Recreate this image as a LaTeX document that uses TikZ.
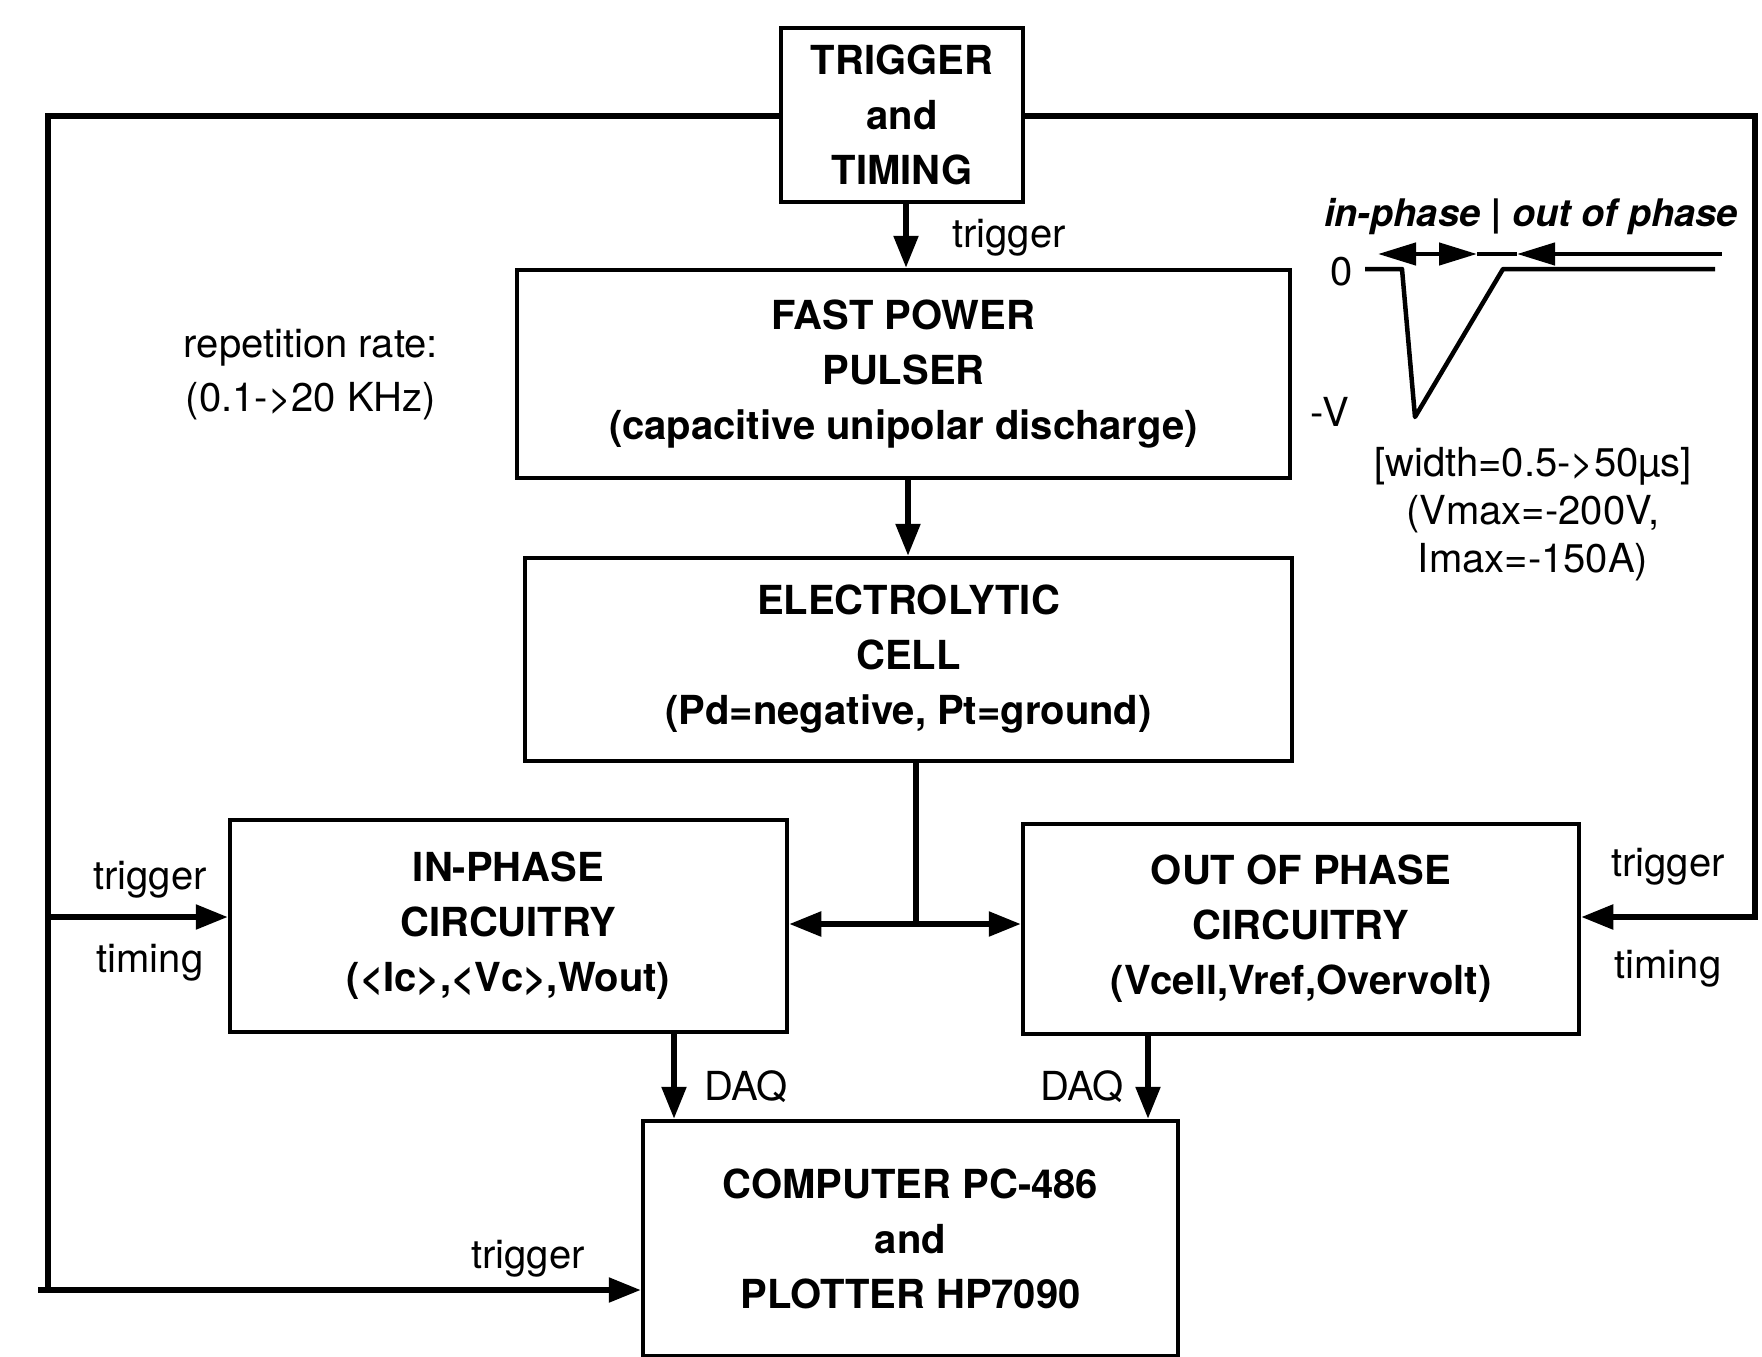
\documentclass[tikz,border=0pt]{standalone}
\usepackage{fontspec}
\setmainfont{TeX Gyre Heros}
\usetikzlibrary{arrows.meta}
\tikzset{
  blk/.style={draw, line width=4.5pt, inner sep=0pt, align=center,
    font=\fontsize{40}{55}\selectfont\bfseries},
  wire/.style={line width=5.5pt},
  arr/.style={wire, -{Triangle[length=32pt,width=24pt]}},
  lbl/.style={inner sep=0pt, align=center, font=\fontsize{40}{54}\selectfont},
  thin/.style={line width=4.5pt, line join=round},
  stip/.tip={Triangle[length=38pt,width=22pt]},
}
\begin{document}
\begin{tikzpicture}[x=1pt,y=-1pt]
\useasboundingbox (0,0) rectangle (1762,1357);
% boxes
\node[blk, minimum width=242pt, minimum height=174pt] (trig) at (902,115) {TRIGGER\\and\\TIMING};
\node[blk, minimum width=773pt, minimum height=208pt] (pulser) at (903.5,374) {FAST POWER\\PULSER\\(capacitive unipolar discharge)};
\node[blk, minimum width=767pt, minimum height=203pt] (cell) at (908.5,659.5) {ELECTROLYTIC\\CELL\\(Pd=negative, Pt=ground)};
\node[blk, minimum width=557pt, minimum height=212pt] (inph) at (508.5,926) {IN-PHASE\\CIRCUITRY\\(<Ic>,<Vc>,Wout)};
\node[blk, minimum width=556pt, minimum height=210pt] (outph) at (1301,929) {OUT OF PHASE\\CIRCUITRY\\(Vcell,Vref,Overvolt)};
\node[blk, minimum width=535pt, minimum height=235pt] (comp) at (910.5,1238.5) {COMPUTER PC-486\\and\\PLOTTER HP7090};
% coordinates
\coordinate (tl) at (48,116);
\coordinate (blc) at (48,1290);
\coordinate (bs) at (38,1290);
\coordinate (lj) at (48,917);
\coordinate (tr) at (1755,116);
\coordinate (rc) at (1755,917);
\coordinate (a1) at (906,0);
\coordinate (a2) at (908,0);
\coordinate (j) at (916,924);
\coordinate (d1) at (674,0);
\coordinate (d2) at (1148,0);
% connectors
\draw[wire] (trig.west |- tl) -- (tl) -- (blc);
\draw[arr] (bs) -- (bs -| comp.west);
\draw[arr] (lj) -- (lj -| inph.west);
\draw[arr] (trig.east |- tr) -- (tr) -- (rc) -- (rc -| outph.east);
\draw[arr] (trig.south -| a1) -- (pulser.north -| a1);
\draw[arr] (pulser.south -| a2) -- (cell.north -| a2);
\draw[wire] (cell.south -| j) -- (j);
\draw[arr] (j) -- (j -| inph.east);
\draw[arr] (j) -- (j -| outph.west);
\draw[arr] (inph.south -| d1) -- (comp.north -| d1);
\draw[arr] (outph.south -| d2) -- (comp.north -| d2);
% labels
\node[lbl] (ltrig) at (1009,238) {trigger};
\node[lbl] (rep) at (311,375) {repetition rate:\\(0.1->20 KHz)};
\node[lbl] (ltl) at (150,880) {trigger};
\node[lbl] (ltm) at (150,963) {timing};
\node[lbl] (rtl) at (1668,867) {trigger};
\node[lbl] (rtm) at (1668,969) {timing};
\node[lbl] (daq1) at (746,1087) {DAQ};
\node[lbl] (daq2) at (1082,1087) {DAQ};
\node[lbl] (btrig) at (528,1259) {trigger};
% pulse inset
\node[lbl, font=\fontsize{38}{40}\selectfont\bfseries\itshape] (ph) at (1531,217) {in-phase | out of phase};
\node[lbl] (zero) at (1342,272) {0};
\node[lbl] (mv) at (1330,412) {-V};
\node[lbl, font=\fontsize{40}{48}\selectfont] (spec) at (1533,514) {[width=0.5->50µs]\\(Vmax=-200V,\\Imax=-150A)};
\coordinate (p0) at (1365,269);
\coordinate (p1) at (1402,269);
\coordinate (p2) at (1415,417);
\coordinate (p3) at (1503,269);
\coordinate (p4) at (1715,269);
\draw[thin] (p0) -- (p1) -- (p2) -- (p3) -- (p4);
\coordinate (u0) at (1378,254);
\coordinate (u1) at (1477,254);
\coordinate (u2) at (1517,254);
\coordinate (u3) at (1722,254);
\draw[thin, stip-stip] (u0) -- (u1);
\draw[thin] (u1) -- (u2);
\draw[thin, stip-] (u2) -- (u3);
\end{tikzpicture}
\end{document}
